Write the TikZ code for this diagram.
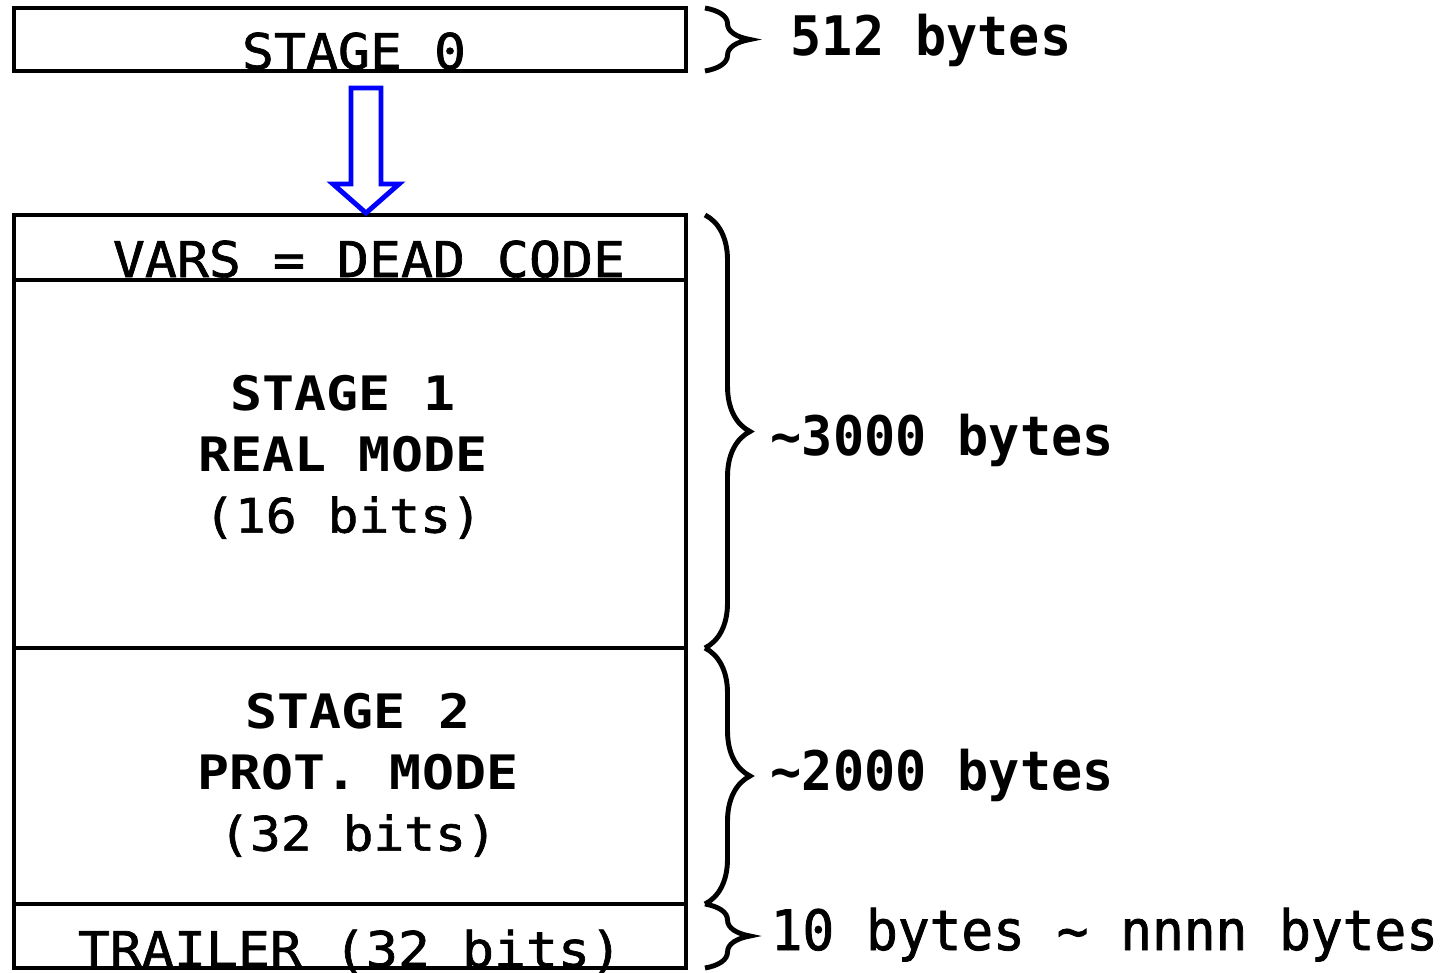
\documentclass[tikz,border=0pt]{standalone}
\usepackage{fontspec}
\usepackage{tikz}
\usetikzlibrary{decorations.pathreplacing}
\newfontfamily\boxfont[FakeStretch=1.12]{DejaVu Sans Mono}
\newfontfamily\regfont[FakeStretch=1.08, FakeBold=1.4]{DejaVu Sans Mono}
\newfontfamily\sizefont[FakeStretch=0.95]{DejaVu Sans Mono}
\newfontfamily\sizeregfont[FakeStretch=0.95, FakeBold=1.4]{DejaVu Sans Mono}

\begin{document}
\begin{tikzpicture}[x=0.01cm, y=-0.01cm,
  boxline/.style={draw, line width=1.4pt},
  boxtxt/.style={font={\boxfont\fontsize{13.5pt}{17.3pt}\selectfont}, inner sep=0pt, align=center},
  regtxt/.style={font={\regfont\fontsize{14pt}{17.3pt}\selectfont}, inner sep=0pt, anchor=base},
  sizetxt/.style={font={\sizefont\fontsize{15.5pt}{18pt}\selectfont}, inner sep=0pt, anchor=base west},
  brc/.style={draw, line width=1.4pt, decorate, decoration={brace, amplitude=0.45cm}},
  blkarrow/.style={draw=blue, line width=1.4pt, line join=miter},
]
\useasboundingbox (0,0) rectangle (1451,972);
% Boxes
\coordinate (s0tl) at (14,8);    \coordinate (s0br) at (686,71);
\coordinate (mtl)  at (14,215);  \coordinate (mbr)  at (686,968);
\draw[boxline] (s0tl) rectangle (s0br);
\draw[boxline] (mtl) rectangle (mbr);
\foreach \yy in {280, 648, 904}
  \draw[boxline] (14,\yy) -- (686,\yy);
% Box texts
\node[regtxt] at (354,69)  (stage0)  {STAGE 0};
\node[regtxt] at (369,277) (vars)    {VARS = DEAD CODE};
\node[boxtxt, anchor=north] at (343,375) (stage1) {{\bfseries STAGE 1}\\{\bfseries REAL MODE}\\{\regfont (16 bits)}};
\node[boxtxt, anchor=north] at (358,693) (stage2) {{\bfseries STAGE 2}\\{\bfseries PROT. MODE}\\{\regfont (32 bits)}};
\node[regtxt] at (350,967) (trailer) {TRAILER (32 bits)};
% Arrow stage 0 -> stage 1
\coordinate (ar0) at (366,88);
\coordinate (ar1) at (366,213);
\draw[blkarrow] (ar0) -- ++(15,0) -- ++(0,96) -- ++(18,0) -- (ar1)
  -- ++(-33,-29) -- ++(18,0) -- ++(0,-96) -- cycle;
% Braces and sizes
\coordinate (b0a) at (705,8);   \coordinate (b0b) at (705,71);
\coordinate (b1a) at (705,215); \coordinate (b1b) at (705,648);
\coordinate (b2a) at (705,648); \coordinate (b2b) at (705,904);
\coordinate (b3a) at (705,904); \coordinate (b3b) at (705,968);
\draw[brc] (b0a) -- (b0b);
\draw[brc] (b1a) -- (b1b);
\draw[brc] (b2a) -- (b2b);
\draw[brc] (b3a) -- (b3b);
\node[sizetxt] at (790,55)  (sz0) {\bfseries 512 bytes};
\node[sizetxt] at (770,455) (sz1) {\bfseries \textasciitilde 3000 bytes};
\node[sizetxt] at (770,790) (sz2) {\bfseries \textasciitilde 2000 bytes};
\node[sizetxt] at (770,950) (sz3) {\sizeregfont\fontsize{15.8pt}{18pt}\selectfont 10 bytes \textasciitilde{} nnnn bytes};
\end{tikzpicture}
\end{document}
